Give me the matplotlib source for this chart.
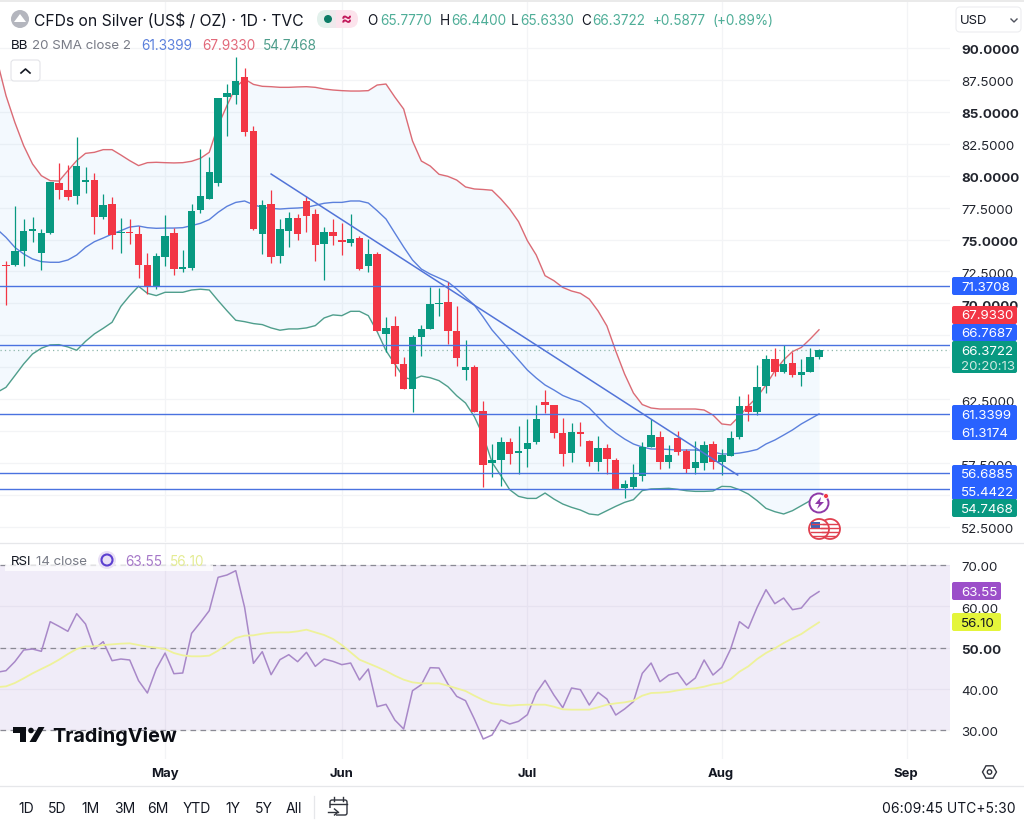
import matplotlib
matplotlib.use("Agg")
import matplotlib.pyplot as plt
from matplotlib.patches import Circle, FancyBboxPatch, Polygon, Rectangle
from matplotlib.transforms import ScaledTranslation
import numpy as np

plt.rcParams["font.family"] = ["Inter", "DejaVu Sans"]

opens = [73.0, 73.03, 74.08, 75.7, 73.92, 75.51, 79.43, 78.9, 78.39, 79.54,
         79.69, 76.74, 77.8, 75.5, 75.62, 75.4, 73.0, 71.26, 73.6, 75.51,
         72.7, 72.8, 77.34, 78.2, 79.43, 86.14, 86.3, 87.7, 83.47, 75.4,
         77.78, 73.74, 75.7, 76.69, 77.99, 77.0, 74.65, 75.56, 74.99, 74.73,
         75.12, 72.9, 73.9, 67.6, 68.2, 65.25, 63.3, 67.34, 68.0, 69.93,
         70.08, 67.86, 64.81, 65.05, 61.55, 57.5, 57.76, 59.12, 58.28, 58.6,
         59.17, 62.3, 62.07, 59.82, 58.28, 59.95, 59.25, 57.55, 58.65, 57.76,
         55.54, 55.6, 56.51, 58.78, 59.56, 57.55, 59.46, 58.47, 57.11, 57.5,
         58.99, 57.55, 58.08, 59.51, 61.99, 61.47, 63.56, 65.64, 64.6, 65.3,
         64.42, 64.65, 65.777]
closes = [72.9, 74.08, 75.64, 75.8, 75.51, 79.48, 78.9, 78.3, 80.73, 79.69,
          76.74, 77.73, 75.36, 75.62, 75.5, 73.0, 71.26, 73.69, 75.25, 72.7,
          72.82, 77.2, 78.44, 80.26, 86.1, 86.5, 87.44, 83.4, 75.83, 77.7,
          73.6, 75.8, 76.66, 75.43, 76.85, 74.6, 75.6, 75.3, 74.8, 75.04,
          72.7, 73.87, 67.86, 68.07, 65.25, 63.3, 67.34, 68.0, 69.95, 70.03,
          67.81, 65.7, 64.99, 61.47, 57.35, 57.76, 59.12, 58.21, 58.47, 59.04,
          60.95, 62.04, 59.82, 58.21, 59.9, 59.8, 57.55, 58.65, 57.8, 55.47,
          55.88, 56.4, 58.73, 59.69, 57.55, 58.13, 58.34, 57.03, 57.55, 58.94,
          57.55, 58.13, 59.43, 61.99, 61.47, 63.43, 65.64, 64.6, 65.25, 64.39,
          64.63, 65.78, 66.3722]
highs = [73.35, 77.6, 76.6, 76.8, 75.83, 79.53, 81.0, 80.8, 83.06, 80.66,
         80.2, 78.6, 78.36, 76.66, 76.6, 76.1, 73.95, 73.95, 76.9, 75.93,
         74.2, 77.78, 82.1, 81.5, 86.1, 87.2, 89.3, 88.4, 83.87, 78.1,
         78.85, 76.6, 77.13, 77.0, 78.4, 77.4, 75.95, 76.6, 76.27, 77.0,
         75.3, 75.04, 74.05, 68.9, 68.99, 65.78, 67.5, 68.3, 71.3, 71.18,
         71.65, 69.82, 67.1, 65.2, 62.33, 58.99, 59.51, 59.43, 60.43, 60.95,
         62.04, 63.24, 62.07, 61.0, 60.63, 60.74, 59.33, 59.64, 58.99, 57.87,
         56.17, 57.42, 59.17, 60.95, 60.03, 58.94, 60.03, 58.6, 59.2, 59.25,
         59.25, 58.6, 60.03, 62.77, 62.9, 65.17, 65.96, 66.48, 66.74, 66.22,
         65.64, 66.48, 66.44]
lows = [69.87, 72.95, 72.9, 74.8, 72.64, 75.4, 78.2, 78.07, 77.8, 78.64,
        75.4, 76.6, 74.26, 73.95, 74.65, 72.0, 70.74, 71.13, 72.95, 72.2,
        72.43, 72.64, 77.08, 78.2, 79.17, 83.08, 85.64, 83.13, 75.77, 73.87,
        73.14, 73.2, 74.44, 75.0, 75.56, 73.35, 71.83, 74.57, 73.8, 74.5,
        72.64, 72.43, 67.8, 66.17, 64.34, 63.3, 61.47, 65.85, 68.0, 69.04,
        66.82, 65.07, 64.03, 61.47, 55.62, 56.38, 55.73, 57.42, 56.64, 57.2,
        58.99, 61.4, 59.43, 57.24, 57.6, 58.8, 57.24, 56.9, 56.64, 55.47,
        54.8, 55.5, 56.12, 58.78, 57.03, 57.08, 58.13, 56.72, 56.64, 56.98,
        57.03, 56.56, 58.08, 59.38, 60.8, 61.26, 62.98, 64.29, 64.55, 64.21,
        63.5, 64.65, 65.633]

# bollinger bands, first value sits one bar left of the first candle
bb_upper = [89.0, 86.27, 84.18, 82.35, 80.92, 80.0, 79.61, 79.58, 80.39, 81.18,
            81.75, 81.83, 82.04, 82.04, 81.62, 81.18, 80.79, 81.02, 81.05, 81.02,
            81.0, 81.02, 81.13, 81.36, 81.83, 83.92, 85.49, 86.92, 87.57, 87.15,
            87.0, 86.97, 86.92, 86.92, 86.95, 86.97, 86.92, 86.79, 86.71, 86.66,
            86.63, 86.63, 86.66, 87.1, 87.18, 86.16, 85.22, 82.72, 81.15, 80.76,
            80.11, 79.95, 79.66, 79.12, 78.96, 78.92, 78.86, 78.18, 77.39, 76.4,
            74.91, 73.79, 72.17, 71.78, 71.25, 70.97, 70.79, 70.34, 69.41, 68.23,
            66.27, 64.47, 62.98, 62.08, 61.81, 61.73, 61.73, 61.73, 61.73, 61.73,
            61.65, 61.26, 60.56, 60.48, 61.18, 61.97, 62.67, 63.61, 64.71, 65.57,
            66.23, 66.55, 67.21, 67.933]
bb_basis = [75.8, 75.17, 74.39, 73.87, 73.48, 73.27, 73.22, 73.22, 73.4, 73.79,
            74.39, 74.83, 75.12, 75.43, 75.7, 75.98, 76.06, 75.93, 75.88, 75.9,
            75.9, 75.93, 76.09, 76.27, 76.56, 77.13, 77.6, 77.91, 78.02, 77.73,
            77.52, 77.44, 77.39, 77.44, 77.47, 77.52, 77.68, 77.84, 77.91, 77.91,
            78.02, 78.02, 77.86, 77.26, 76.61, 75.51, 74.42, 73.4, 72.69, 72.3,
            71.99, 71.68, 71.13, 70.5, 69.87, 68.93, 67.92, 67.13, 66.35, 65.57,
            64.78, 64.16, 63.61, 63.22, 62.79, 62.51, 62.3, 61.81, 61.1, 60.4,
            59.85, 59.38, 58.99, 58.75, 58.6, 58.6, 58.56, 58.52, 58.52, 58.52,
            58.44, 58.36, 58.21, 58.21, 58.28, 58.4, 58.56, 58.99, 59.3, 59.69,
            60.09, 60.56, 60.95, 61.3399]
bb_lower = [63.04, 63.43, 64.34, 65.26, 66.04, 66.49, 66.75, 66.77, 66.59, 66.33,
            67.03, 67.61, 68.05, 68.52, 69.77, 70.61, 71.34, 70.79, 70.61, 70.87,
            70.87, 70.87, 71.05, 71.11, 71.05, 70.22, 69.43, 68.68, 68.57, 68.42,
            68.34, 68.08, 67.9, 68.0, 68.0, 68.08, 68.26, 68.86, 69.1, 69.04,
            69.38, 69.38, 69.04, 67.79, 66.3, 65.25, 64.21, 64.03, 64.31, 64.18,
            63.95, 63.48, 62.77, 62.2, 61.13, 59.64, 57.55, 56.51, 55.41, 54.89,
            54.73, 54.73, 55.15, 54.68, 54.29, 54.03, 53.82, 53.51, 53.43, 53.77,
            54.11, 54.42, 54.63, 55.34, 55.47, 55.49, 55.52, 55.44, 55.33, 55.28,
            55.28, 55.31, 55.67, 55.65, 55.41, 55.07, 54.55, 53.95, 53.69, 53.51,
            53.77, 54.16, 54.55, 54.7468]

rsi = [44.0, 44.38, 46.56, 49.39, 49.63, 49.07, 56.26, 55.13, 53.92, 58.2,
       55.69, 49.63, 51.41, 46.8, 47.21, 46.97, 41.96, 38.97, 44.78, 48.66,
       43.65, 43.82, 53.43, 56.1, 58.93, 67.01, 67.57, 68.62, 59.73, 46.16,
       48.99, 43.41, 47.05, 48.26, 46.56, 48.83, 45.43, 47.21, 46.64, 45.84,
       46.24, 42.12, 44.78, 35.65, 36.22, 32.42, 30.24, 39.53, 40.99, 45.11,
       45.03, 41.15, 38.16, 37.11, 32.66, 27.82, 28.78, 32.42, 31.45, 32.1,
       33.71, 38.97, 42.04, 38.48, 35.41, 40.18, 39.78, 36.06, 39.13, 37.51,
       33.63, 35.09, 36.87, 43.73, 46.24, 41.71, 43.33, 43.9, 40.91, 42.6,
       46.97, 43.33, 45.19, 49.63, 56.26, 54.64, 59.73, 64.02, 60.62, 61.99,
       59.17, 59.57, 62.16, 63.55]
rsi_ma = [40.4, 40.58, 41.39, 42.52, 43.73, 44.79, 45.84, 47.05, 48.42, 49.63,
          50.28, 50.28, 50.6, 50.76, 50.93, 51.01, 50.6, 50.2, 49.96, 49.63,
          48.66, 48.1, 47.86, 47.86, 48.02, 49.23, 50.85, 52.3, 52.87, 52.95,
          53.35, 53.59, 53.67, 53.67, 53.92, 54.32, 53.67, 53.03, 52.06, 50.6,
          48.83, 47.05, 46.16, 45.27, 44.3, 43.17, 42.2, 41.55, 41.31, 41.31,
          41.31, 40.74, 40.1, 39.45, 38.32, 37.27, 36.46, 36.14, 35.9, 36.06,
          36.14, 36.14, 36.14, 35.65, 35.01, 34.93, 34.93, 34.93, 35.49, 36.14,
          36.46, 36.7, 37.11, 38.32, 38.97, 39.05, 39.21, 39.61, 39.94, 40.1,
          40.5, 41.07, 41.39, 42.36, 44.14, 45.43, 47.21, 48.66, 49.79, 51.09,
          52.22, 53.27, 54.72, 56.1]

support_levels = [71.3708, 66.7687, 61.3174, 56.6885, 55.4422]
last_close = 66.3722
trend_start = (30, 80.13)
trend_end = (82.8, 56.56)

month_names = ["May", "Jun", "Jul", "Aug", "Sep"]
month_pos = [18, 38, 59, 81, 102]
price_ticks = [52.5, 55, 57.5, 60, 62.5, 65, 67.5, 70, 72.5, 75, 77.5, 80, 82.5, 85, 87.5, 90]
price_labels = ["52.5000", "", "57.5000", "", "62.5000", "", "", "70.0000", "72.5000",
                "75.0000", "77.5000", "80.0000", "82.5000", "85.0000", "87.5000", "90.0000"]
bold_prices = ["70.0000", "75.0000", "80.0000", "85.0000", "90.0000"]
rsi_ticks = [30, 40, 50, 60, 70]
rsi_labels = ["30.00", "40.00", "50.00", "60.00", "70.00"]
ranges = ["1D", "5D", "1M", "3M", "6M", "YTD", "1Y", "5Y", "All"]
range_x = [26, 57, 91, 125, 158, 197, 233, 264, 294]

UP = "#089981"
DOWN = "#F23645"
BLUE = "#2962FF"
GRID = "#F3F4F6"
TEXT = "#131722"
GREY = "#787B86"

W, H = 1024, 828
fig = plt.figure(figsize=(W / 100, H / 100), dpi=100, facecolor="white")


def pane(top, bottom, ylim):
    ax = fig.add_axes([0, 1 - bottom / H, 950 / W, (bottom - top) / H])
    ax.set_xlim(-6 / 8.837, (950 - 6) / 8.837)
    ax.set_ylim(*ylim)
    for s in ax.spines.values():
        s.set_visible(False)
    ax.yaxis.tick_right()
    ax.tick_params(axis="both", length=0)
    ax.set_xticks(month_pos)
    ax.set_xticklabels([])
    ax.grid(True, color=GRID, lw=0.9, zorder=0)
    ax.set_axisbelow(True)
    return ax


def nudge_labels(ax):
    # inter sits a pixel high with va=center
    for lab in ax.get_yticklabels():
        lab.set_transform(lab.get_transform() + ScaledTranslation(0, -1 / 100, fig.dpi_scale_trans))


# price pane
ax = pane(3, 543, (90 - 494 / 12.77, 90 + 46 / 12.77))
ax.set_yticks(price_ticks)
ax.set_yticklabels(price_labels, fontsize=9.6, color="#22252E")
ax.tick_params(axis="y", pad=8)
for lab in ax.get_yticklabels():
    if lab.get_text() in bold_prices:
        lab.set_fontweight("bold")
nudge_labels(ax)

idx = np.arange(len(opens))
line_x = np.arange(-1, len(opens))
up = np.array(closes) >= np.array(opens)
colors = [UP if u else DOWN for u in up]

ax.fill_between(line_x, bb_lower, bb_upper, color="#2196F3", alpha=0.05, lw=0, zorder=1)
ax.plot(line_x, bb_upper, color="#DB6B75", lw=1.0, zorder=2)
ax.plot(line_x, bb_basis, color="#5B80DC", lw=1.0, zorder=2)
ax.plot(line_x, bb_lower, color="#4F9E8C", lw=1.0, zorder=2)

ax.vlines(idx, lows, highs, colors=colors, lw=0.9, zorder=3)
ax.bar(idx, np.array(closes) - np.array(opens), bottom=opens, width=0.84, color=colors, lw=0, zorder=4)

for lev in support_levels:
    ax.axhline(lev, color="#4A72E0", lw=1.0, zorder=5)
ax.axhline(last_close, color="#8FB8AC", lw=0.9, ls=(0, (1, 2.5)), zorder=2)
ax.plot([trend_start[0], trend_end[0]], [trend_start[1], trend_end[1]], color="#5274D8", lw=1.1, zorder=5)

# rsi pane
ax2 = pane(544, 760, (30 - 29 / 4.125, 70 + 22 / 4.125))
ax2.set_yticks(rsi_ticks)
ax2.set_yticklabels(rsi_labels, fontsize=9.6, color="#22252E")
ax2.tick_params(axis="y", pad=8)
ax2.get_yticklabels()[2].set_fontweight("bold")
nudge_labels(ax2)
ax2.axhspan(30, 70, color="#7E57C2", alpha=0.11, lw=0, zorder=1)
for lev in [30, 50, 70]:
    ax2.axhline(lev, color="#8A8A94", lw=0.9, ls=(0, (4.5, 3.5)), zorder=2)
ax2.plot(line_x, rsi, color="#A888C8", lw=1.1, zorder=3)
ax2.plot(line_x, rsi_ma, color="#EEF29A", lw=1.3, zorder=3)

# everything around the panes lives on a pixel overlay
ui = fig.add_axes([0, 0, 1, 1], zorder=10)
ui.set_xlim(0, W)
ui.set_ylim(H, 0)
ui.axis("off")
ui.patch.set_alpha(0)


def tag(x0, y0, x1, y1, color):
    ui.add_patch(FancyBboxPatch((x0 + 2, y0 + 2), x1 - x0 - 4, y1 - y0 - 4,
                                boxstyle="round,pad=2,rounding_size=2", fc=color, ec="none"))


def txt(x, y, s, color=TEXT, size=9.6, weight="normal", ha="left"):
    ui.text(x, y + 1, s, color=color, fontsize=size, fontweight=weight, ha=ha, va="center")


ui.add_patch(Rectangle((0, 0), W, 3, fc="#EAEAEA", ec="none"))
ui.plot([0, W], [543.5, 543.5], color="#E6E7EA", lw=0.9)
ui.plot([0, W], [787.5, 787.5], color="#E6E7EA", lw=0.9)

# header
ui.add_patch(Circle((20, 20), 9, fc="#B4B6BE", ec="none"))
ui.add_patch(Polygon([[14, 23], [20, 15], [26, 23]], fc="white", ec="none"))
txt(34, 20, "CFDs on Silver (US$ / OZ) · 1D · TVC", size=11.3)
ui.add_patch(FancyBboxPatch((317, 11), 28, 18, boxstyle="round,pad=0,rounding_size=9", fc="#E3F1EC", ec="none"))
ui.add_patch(FancyBboxPatch((330, 11), 28, 18, boxstyle="round,pad=0,rounding_size=9", fc="#FCE3EC", ec="none"))
ui.add_patch(Rectangle((330, 11), 6, 18, fc="#EFE9EC", ec="none"))
ui.add_patch(Circle((328, 20), 4, fc="#0B7D66", ec="none"))
txt(341, 19, "≈", color="#C2185B", size=12, weight="bold")
up_text = "#4FAE98"
txt(367, 20, "O", size=9.8)
txt(380, 20, "65.7770", color=up_text, size=9.8)
txt(440, 20, "H", size=9.8)
txt(451, 20, "66.4400", color=up_text, size=9.8)
txt(511, 20, "L", size=9.8)
txt(520, 20, "65.6330", color=up_text, size=9.8)
txt(581, 20, "C", size=9.8)
txt(592, 20, "66.3722", color=up_text, size=9.8)
txt(653, 20, "+0.5877", color=up_text, size=9.8)
txt(712, 20, "(+0.89%)", color=up_text, size=9.8)

txt(11, 45, "BB", size=9.6)
txt(32, 45, "20 SMA close 2", color=GREY, size=9.6)
txt(141, 45, "61.3399", color="#5B80DC", size=9.8)
txt(202, 45, "67.9330", color="#E2697A", size=9.8)
txt(263, 45, "54.7468", color="#4F9E8C", size=9.8)

ui.add_patch(FancyBboxPatch((11, 61), 29, 21, boxstyle="round,pad=0,rounding_size=3", fc="white", ec="#E3E4E8", lw=0.8))
ui.plot([21, 25.5, 30], [74, 70, 74], color=TEXT, lw=1.2)

ui.add_patch(FancyBboxPatch((956, 8), 65, 25, boxstyle="round,pad=0,rounding_size=4", fc="white", ec="#ECEDF0", lw=0.8))
txt(960, 20, "USD", size=9.4)
ui.plot([1011, 1014, 1017], [20, 23, 20], color="#50535E", lw=1.0)

# price tags on the right
tag(952, 278, 1017, 296, BLUE)
tag(952, 307, 1017, 325, DOWN)
tag(952, 325, 1017, 342, BLUE)
tag(952, 342, 1017, 374, UP)
tag(952, 406, 1017, 441, BLUE)
tag(952, 466, 1017, 501, BLUE)
tag(952, 500, 1017, 518, UP)
for y, s in [(287, "71.3708"), (315, "67.9330"), (333, "66.7687"), (351, "66.3722"),
             (415, "61.3399"), (433, "61.3174"), (474, "56.6885"), (492, "55.4422"), (509.5, "54.7468")]:
    txt(961, y, s, color="white")
txt(961, 366, "20:20:13", color="#CFE9E2")

tag(952, 583, 1001, 601, "#9C4FC9")
txt(961, 592, "63.55", color="white")
tag(952, 614, 1001, 632, "#E4F53A")
txt(961, 623, "56.10")

# alert markers next to the last bar
ui.add_patch(Circle((819, 504), 9.5, fc="white", ec="#8E3AA8", lw=1.4))
ui.add_patch(Polygon([[821, 498], [815, 505], [819, 505], [817, 510], [824, 503], [820, 503]], fc="#8E3AA8", ec="none"))
ui.add_patch(Circle((826, 497), 2.5, fc=DOWN, ec="white", lw=0.6))
for cx in [830, 819]:
    ui.add_patch(Circle((cx, 530), 10, fc="white", ec="#E0404F", lw=1.3))
    for dy in [-5, -1, 3, 7]:
        half = (max(81 - dy * dy, 0)) ** 0.5
        ui.plot([cx - half, cx + half], [530 + dy, 530 + dy], color="#E0404F", lw=1.0)
ui.add_patch(Rectangle((811, 523), 9, 7, fc="#3A63B8", ec="none"))

# rsi legend
ui.add_patch(Rectangle((5, 566), 208, 6, fc="white", ec="none", alpha=0.75))
txt(11, 561, "RSI", size=9.6)
txt(36, 561, "14 close", color=GREY, size=9.6)
ui.add_patch(Circle((107, 561), 9, fc="#E9E0F5", ec="none"))
ui.add_patch(Circle((107, 561), 5.5, fc="none", ec="#5B3FD0", lw=1.5))
txt(125, 561, "63.55", color="#A577C8", size=9.8)
txt(170, 561, "56.10", color="#E4EC93", size=9.8)

# logo
ui.add_patch(Polygon([[13, 728], [26, 728], [26, 743], [19.5, 743], [19.5, 734], [13, 734]], fc="#0B0E14", ec="none"))
ui.add_patch(Circle((31, 731.5), 2.8, fc="#0B0E14", ec="none"))
ui.add_patch(Polygon([[38.5, 728], [44.5, 728], [36, 743], [29.5, 743]], fc="#0B0E14", ec="none"))
txt(52, 735.5, "TradingView", color="#0B0E14", size=14.3, weight="bold")

# time axis and bottom bar
for name, x in zip(month_names, [165, 342, 527, 721, 906]):
    txt(x, 773, name, size=9.4, weight="bold", ha="center")
hx, hy = 989.5, 773
ui.add_patch(Polygon([[hx - 7, hy], [hx - 3.5, hy - 6.2], [hx + 3.5, hy - 6.2],
                      [hx + 7, hy], [hx + 3.5, hy + 6.2], [hx - 3.5, hy + 6.2]], fc="none", ec="#30333C", lw=1.0))
ui.add_patch(Circle((hx, hy), 2.2, fc="none", ec="#30333C", lw=1.0))

for s, x in zip(ranges, range_x):
    txt(x, 808, s, size=10, ha="center")
ui.plot([313.5, 313.5], [797, 819], color="#E6E7EA", lw=0.9)
ui.add_patch(FancyBboxPatch((330, 801), 17, 15, boxstyle="round,pad=0,rounding_size=2", fc="none", ec="#30333C", lw=1.0))
ui.plot([330, 347], [805, 805], color="#30333C", lw=1.0)
ui.plot([334, 334], [798, 802], color="#30333C", lw=1.0)
ui.plot([343, 343], [798, 802], color="#30333C", lw=1.0)
ui.add_patch(Rectangle((326, 809), 10, 10, fc="white", ec="none"))
ui.plot([328, 338], [813, 813], color="#30333C", lw=1.0)
ui.plot([334.5, 338, 334.5], [810, 813, 816], color="#30333C", lw=1.0)
txt(1016, 808, "06:09:45 UTC+5:30", size=10, ha="right")

fig.savefig("out.png", dpi=100)
